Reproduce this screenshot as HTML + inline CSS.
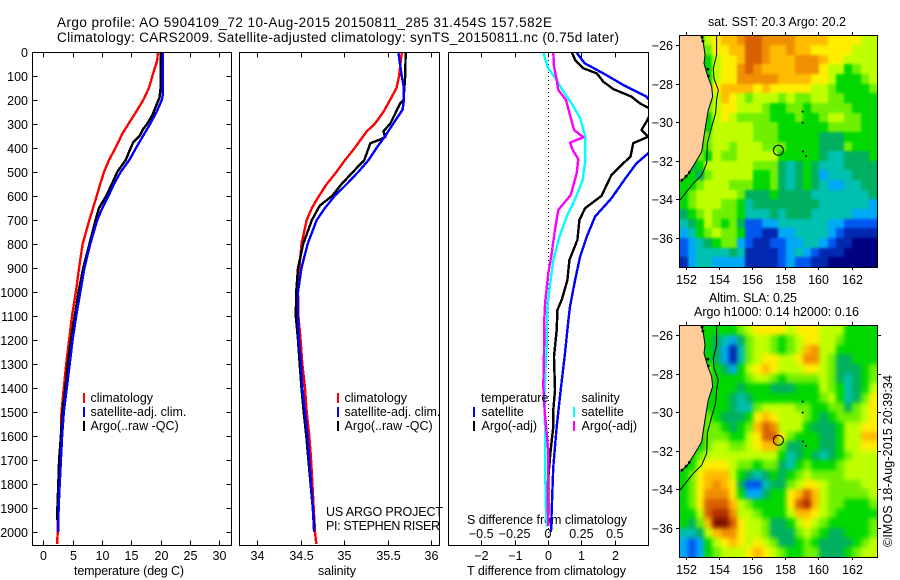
<!DOCTYPE html>
<html lang="en">
<head>
<meta charset="utf-8">
<title>Argo profile 5904109_72</title>
<style>
html,body{margin:0;padding:0;background:#fff;}
svg{display:block;}
text{font-family:"Liberation Sans",Arial,sans-serif;font-size:12.5px;fill:#000;}
</style>
</head>
<body>
<svg id="fig" xmlns="http://www.w3.org/2000/svg" width="900" height="580" viewBox="0 0 900 580">
<defs>
<clipPath id="clip-t"><rect x="32" y="52" width="199" height="493"/></clipPath>
<clipPath id="clip-s"><rect x="240" y="52" width="199" height="493"/></clipPath>
<clipPath id="clip-d"><rect x="449" y="52" width="199" height="493"/></clipPath>
<clipPath id="clip-m1"><rect x="680" y="35" width="197" height="232"/></clipPath>
<clipPath id="clip-m2"><rect x="680" y="325" width="197" height="232"/></clipPath>
<filter id="soft-sst" filterUnits="userSpaceOnUse" x="660" y="15" width="240" height="272" color-interpolation-filters="sRGB">
<feGaussianBlur stdDeviation="1.3"/>
<feComponentTransfer><feFuncA type="linear" slope="20"/></feComponentTransfer>
</filter>
<filter id="soft-sla" filterUnits="userSpaceOnUse" x="660" y="305" width="240" height="272" color-interpolation-filters="sRGB">
<feGaussianBlur stdDeviation="2.4"/>
<feComponentTransfer><feFuncA type="linear" slope="20"/></feComponentTransfer>
</filter>
</defs>
<text x="57" y="27" style="font-size:13.5px" textLength="495">Argo profile: AO 5904109_72 10-Aug-2015 20150811_285 31.454S 157.582E</text>
<text x="57" y="42" style="font-size:13.5px" textLength="562">Climatology: CARS2009. Satellite-adjusted climatology: synTS_20150811.nc (0.75d later)</text>
<text x="74" y="575" textLength="110">temperature (deg C)</text>
<text x="318" y="575" textLength="38">salinity</text>
<text x="467" y="575" textLength="159">T difference from climatology</text>
<text x="467" y="524" textLength="160">S difference from climatology</text>
<text x="326" y="516" textLength="117">US ARGO PROJECT</text>
<text x="326" y="530" textLength="114">PI: STEPHEN RISER</text>
<text x="708" y="26" textLength="138">sat. SST: 20.3 Argo: 20.2</text>
<text x="709" y="302" textLength="88">Altim. SLA: 0.25</text>
<text x="694" y="316" textLength="165">Argo h1000: 0.14 h2000: 0.16</text>
<text transform="translate(892,547) rotate(-90)" textLength="172">©IMOS 18-Aug-2015 20:39:34</text>
</svg>
<script>
// ---- axis tick data ----
var depthTicks = [0,100,200,300,400,500,600,700,800,900,1000,1100,1200,1300,1400,1500,1600,1700,1800,1900,2000];
var tempTicks = [0,5,10,15,20,25,30];
var salTicks = [34,34.5,35,35.5,36];
var salTickLabels = ['34','34.5','35','35.5','36'];
var tDiffTicks = [-2,-1,0,1,2];
var tDiffLabels = ['\u22122','\u22121','0','1','2'];
var sDiffTicks = [-0.5,-0.25,0,0.25,0.5];
var sDiffLabels = ['\u22120.5','\u22120.25','0','0.25','0.5'];
var lonTicks = [152,154,156,158,160,162];
var latTicks = [-26,-28,-30,-32,-34,-36];

// ---- temperature profiles ----
var tClimDepth = [0,33,100,150,200,242,300,339,400,450,500,550,600,700,800,900,990,1100,1200,1300,1400,1500,1600,1700,1800,1900,2000,2050];
var tClimValue = [19.5,19.45,18.6,18.0,17.05,16.0,14.5,13.5,12.3,11.2,10.35,9.7,9.1,7.85,6.7,6.1,5.6,4.9,4.4,3.9,3.5,3.1,3.0,2.7,2.6,2.5,2.45,2.35];
var tSatDepth = [0,100,180,200,250,300,350,400,450,500,550,600,650,700,800,900,1000,1100,1200,1300,1400,1500,1600,1700,1800,1900,2000];
var tSatValue = [20.35,20.35,20.35,20.2,19.3,18.2,17,15.8,14.65,13.2,12.05,11.1,10.05,9.2,8,7,6.3,5.6,5,4.5,4,3.5,3.2,3,2.8,2.6,2.55];
var tArgoDepth = [0,100,150,190,220,260,300,320,350,375,400,450,500,550,600,650,700,800,900,1000,1100,1200,1300,1400,1500,1600,1700,1800,1900,1950];
var tArgoValue = [20,20,20,19.8,19.3,18.65,17.7,17.05,16.4,15.35,14.9,14.05,12.6,11.7,10.7,9.5,8.9,7.85,6.8,6,5.35,4.7,4.2,3.75,3.25,3,2.7,2.55,2.4,2.4];

// ---- salinity profiles ----
var sClimDepth = [0,100,150,200,250,300,330,400,450,500,550,600,650,700,800,900,1000,1100,1200,1300,1400,1500,1600,1700,1800,1900,2000,2050];
var sClimValue = [35.66,35.63,35.6,35.525,35.45,35.35,35.26,35.12,35.01,34.91,34.8,34.71,34.63,34.57,34.51,34.485,34.47,34.475,34.5,34.52,34.55,34.57,34.6,34.62,34.635,34.65,34.665,34.68];
var sSatDepth = [0,50,100,150,200,240,300,350,400,450,500,550,600,650,700,800,900,1000,1100,1200,1300,1400,1500,1600,1700,1800,1900,2000];
var sSatValue = [35.62,35.64,35.66,35.685,35.685,35.67,35.56,35.47,35.37,35.28,35.16,35.03,34.89,34.78,34.685,34.58,34.51,34.47,34.47,34.48,34.505,34.52,34.55,34.58,34.6,34.62,34.64,34.655];
var sArgoDepth = [0,100,200,215,260,300,330,355,365,380,420,450,500,550,600,640,700,800,900,1000,1100,1200,1300,1400,1500,1600,1700,1800,1900,1980];
var sArgoValue = [35.705,35.7,35.68,35.64,35.58,35.525,35.45,35.47,35.41,35.3,35.26,35.23,35.1,34.97,34.86,34.72,34.63,34.53,34.47,34.45,34.445,34.47,34.49,34.51,34.535,34.565,34.59,34.615,34.64,34.66];

// ---- difference profiles ----
var dtSatDepth = [0,47,89,137,186,250,300,350,422,464,520,609,686,770,853,950,1061,1117,1255,1408,1561,1728,1908,1999];
var dtSatValue = [0.84,1.1,1.66,2.25,2.95,3.3,3.6,3.5,3.0,2.65,2.35,1.9,1.41,1.16,0.96,0.81,0.66,0.61,0.51,0.38,0.26,0.16,0.11,0.09];
var dtArgoDepth = [0,33,68,89,124,155,186,214,232,250,290,325,353,380,436,471,512,600,651,700,783,867,950,1033,1075,1158,1270,1408,1492,1561,1658,1770,1853,1950];
var dtArgoValue = [0.71,0.81,1.06,1.46,1.66,1.96,2.5,2.75,3.0,3.1,2.95,2.8,3.0,2.55,2.47,2.2,1.9,1.6,1.11,0.94,0.88,0.64,0.58,0.41,0.28,0.26,0.18,0.21,0.16,0.16,0.08,0.01,0.01,0.0];
var dsSatDepth = [0,61,117,165,214,276,353,450,533,617,686,770,867,950,1061,1221,1353,1492,1633,1770,1908,1978];
var dsSatValue = [-0.035,-0.005,0.065,0.115,0.177,0.24,0.28,0.28,0.26,0.2,0.14,0.085,0.04,0.02,-0.005,-0.01,-0.022,-0.025,-0.02,-0.02,-0.015,-0.01];
var dsArgoDepth = [0,61,117,158,200,262,325,355,378,408,447,505,596,658,742,839,922,1046,1117,1255,1395,1500,1662,1880,1975];
var dsArgoValue = [0.04,0.045,0.065,0.077,0.135,0.165,0.195,0.264,0.165,0.185,0.227,0.215,0.17,0.077,0.052,0.028,0.002,-0.022,-0.028,-0.03,-0.035,-0.025,0.002,-0.002,0.002];

// ---- map data (colour class per 0.5 deg cell) ----
var sstRows = [
[6,6,6,8,9,10,10,11,12,12,11,11,11,11,10,10,10,10,9,9,9,9,8,8],
[6,6,6,7,9,9,10,10,12,12,11,10,10,11,10,10,9,9,9,9,9,8,8,8],
[6,6,6,6,8,9,9,10,12,12,11,10,10,10,11,11,11,10,9,9,8,8,8,8],
[6,6,6,6,8,9,9,11,12,11,10,10,10,10,11,11,11,9,8,8,6,7,8,8],
[6,6,6,6,8,9,9,11,11,11,11,11,10,10,10,10,9,9,8,6,6,6,7,8],
[6,6,6,6,9,10,10,10,10,9,10,9,9,9,9,9,8,8,7,6,6,6,6,7],
[6,6,6,6,8,10,9,8,7,8,8,8,7,8,7,7,8,8,7,7,6,6,6,6],
[6,6,6,7,8,9,9,8,8,8,7,6,6,7,7,6,7,7,7,7,7,6,6,6],
[6,6,6,6,8,9,8,7,7,7,7,6,6,6,7,6,6,7,8,8,7,7,6,6],
[6,6,6,6,8,8,8,8,8,7,7,7,6,6,6,6,6,6,7,7,7,7,6,6],
[6,6,6,7,8,8,8,8,8,7,7,7,6,6,6,6,6,5,5,5,6,6,6,6],
[6,6,6,7,8,8,7,8,8,8,7,7,7,6,6,6,6,5,5,5,7,6,6,6],
[6,6,7,6,8,7,7,8,8,8,8,8,6,6,6,6,6,5,4,4,5,5,5,6],
[6,5,6,8,8,8,8,8,8,7,7,7,5,4,5,6,5,4,4,4,5,5,5,5],
[6,6,5,7,8,8,8,8,8,6,6,7,5,4,5,6,5,3,4,4,4,5,5,5],
[6,6,7,8,8,8,7,7,7,6,6,7,5,4,5,6,5,4,3,3,4,4,5,5],
[6,7,8,8,8,8,8,7,5,5,5,6,5,5,5,5,4,4,4,4,4,4,4,5],
[6,7,8,8,8,7,7,6,4,5,5,5,5,5,5,5,5,4,4,4,4,4,4,3],
[5,6,7,8,7,7,7,6,4,4,4,5,4,5,5,5,4,4,4,4,4,3,3,3],
[4,5,6,8,7,6,7,5,2,2,3,3,4,4,4,4,4,4,3,3,2,2,2,2],
[3,4,6,7,8,7,7,6,2,2,1,1,3,3,4,4,4,4,3,2,1,1,1,1],
[2,3,4,5,6,7,7,3,2,1,1,2,2,3,3,4,4,3,2,1,1,0,0,0],
[2,3,4,4,4,4,5,4,1,1,1,1,2,3,4,3,2,1,1,1,0,0,0,0],
[1,3,4,4,3,3,3,3,1,1,1,1,2,3,2,2,1,1,0,0,0,0,0,0]
];
var slaRows = [
[6,6,6,6,6,6,6,7,8,9,9,9,9,8,9,9,9,8,8,8,6,6,6,6],
[6,6,6,6,5,4,3,5,7,8,8,7,6,7,8,9,9,8,8,7,6,6,6,6],
[6,6,6,6,5,3,1,4,7,8,8,7,6,7,8,10,11,8,8,6,6,6,6,6],
[6,6,6,6,5,3,1,4,7,8,9,9,8,8,9,11,11,8,7,5,5,6,6,6],
[6,6,6,7,6,5,3,6,8,9,10,9,8,8,8,9,9,8,7,5,5,5,6,7],
[6,6,6,7,6,6,6,6,7,8,8,7,6,7,7,7,7,8,7,5,4,5,6,7],
[6,6,6,6,6,6,6,5,6,6,6,5,5,5,6,6,6,8,7,6,4,5,6,8],
[6,6,6,6,6,6,5,4,5,6,6,6,6,6,6,6,6,7,8,6,4,5,7,9],
[6,6,6,6,6,6,5,4,4,7,8,8,8,8,7,7,6,6,7,7,5,7,8,9],
[6,6,6,7,6,5,5,5,6,9,10,9,8,8,8,7,6,5,6,7,7,7,8,9],
[6,6,6,7,7,6,5,6,7,10,12,11,8,8,8,6,5,5,5,6,8,8,9,9],
[6,6,6,7,7,7,6,6,8,9,12,12,9,7,6,6,6,5,5,6,8,8,10,10],
[6,6,6,7,8,8,7,7,8,9,10,10,7,5,5,6,6,5,5,6,8,8,9,9],
[6,6,7,8,8,8,8,8,8,8,8,8,6,4,5,6,5,4,5,6,7,8,8,8],
[6,6,8,9,9,9,8,7,7,6,7,7,5,4,6,7,6,6,6,7,8,8,8,8],
[6,7,9,10,10,10,8,6,5,4,5,6,5,6,7,8,7,7,7,7,8,8,8,8],
[6,7,9,10,11,10,9,5,2,2,4,5,5,7,8,9,9,8,7,7,7,7,8,8],
[6,7,9,11,11,11,9,6,3,3,5,6,6,9,10,12,10,8,7,7,7,7,7,8],
[6,7,9,12,12,12,10,8,7,6,6,6,6,9,12,13,10,8,7,7,6,6,6,7],
[6,6,8,12,13,13,11,8,8,7,6,6,6,8,10,10,9,8,7,6,6,6,6,6],
[6,5,7,10,14,14,12,9,8,8,7,5,5,6,8,9,8,7,6,6,6,6,6,7],
[4,4,5,8,10,11,11,9,8,8,7,5,5,5,7,8,7,6,5,5,6,6,6,7],
[3,2,3,6,8,9,10,9,8,9,8,7,5,5,6,7,6,5,5,5,5,6,7,8],
[3,2,3,6,7,8,8,8,9,10,9,8,7,6,6,7,7,5,5,5,6,7,8,8]
];
var mapPalette = ['#000080','#0028b0','#0058f0','#00a8f8','#00c0b0','#00b060','#00d800','#70f000','#c0ff00','#ffee00','#ffbc00','#f09000','#d86000','#b03000','#801000'];

// ---- map outlines (lon / lat) ----
var coastLon = [152.91,153.05,153.15,153.09,153.29,153.55,153.61,153.35,153.21,153.05,152.95,152.54,152.14,151.68];
var coastLat = [-25.48,-25.91,-26.52,-26.95,-27.55,-28.16,-28.68,-29.37,-30.06,-30.92,-31.53,-32.13,-32.68,-33.08];
var isobathLon = [153.85,153.85,153.65,153.69,153.95,153.85,153.79,153.55,153.29,153.25,152.95,152.44,151.64];
var isobathLat = [-25.48,-26.52,-27.21,-27.73,-28.33,-28.85,-29.54,-30.23,-31.09,-32.13,-32.74,-33.17,-34.03];
var estuaryLon = [152.97,153.02,153.32,153.35,152.2,152.0,151.75];
var estuaryLat = [-25.6,-25.8,-27.25,-27.6,-32.6,-32.8,-33.0];
var islandLon = [159.05,159.05,159.07,159.25];
var islandLat = [-29.45,-30.02,-31.52,-31.75];
var profileLon = 157.582;
var profileLat = -31.454;

// ---- axis functions ----
function yDepth(d){ return 52 + d*0.24; }
function xTemp(t){ return 43.3 + t*5.867; }
function xSal(s){ return 257 + (s-34)*87.2; }
function xDT(t){ return 548 + t*33.4; }
function xDS(s){ return 548 + s*133.6; }
function xLon(lon){ return 686 + (lon-152)*16.55; }
function yLatTop(lat){ return 45 + (-26-lat)*19.3; }
function yLatBottom(lat){ return 335 + (-26-lat)*19.3; }

var svg = document.getElementById('fig');
var NS = 'http://www.w3.org/2000/svg';

function mk(tag, name, attrs, parent){
  var el = document.createElementNS(NS, tag);
  
  
  for (var k in attrs) el.setAttribute(k, attrs[k]);
  (parent || svg).appendChild(el);
  return el;
}
function line(name, x1, y1, x2, y2, parent, w){
  return mk('line', name, {x1:x1, y1:y1, x2:x2, y2:y2, stroke:'#000', 'stroke-width':w||1, 'shape-rendering':'crispEdges'}, parent);
}
function label(name, str, x, y, anchor, parent){
  var el = mk('text', name, {x:x, y:y, 'text-anchor':anchor||'middle'}, parent);
  el.textContent = str;
  return el;
}
function profile(name, depths, values, xf, color, clip, width){
  var pts = [];
  for (var i = 0; i < depths.length; i++) pts.push(xf(values[i]).toFixed(1) + ',' + yDepth(depths[i]).toFixed(1));
  mk('polyline', name, {points:pts.join(' '), fill:'none', stroke:color, 'stroke-width':width||2.4, 'stroke-linejoin':'round', 'shape-rendering':'crispEdges', 'clip-path':'url(#'+clip+')'});
}
function frame(name, l, t, r, b){
  mk('rect', name, {x:l, y:t, width:r-l, height:b-t, fill:'none', stroke:'#000', 'stroke-width':1, 'shape-rendering':'crispEdges'});
}

// ---- temperature panel ----
profile('temperature-climatology-line', tClimDepth, tClimValue, xTemp, '#ff0000', 'clip-t');
profile('temperature-argo-line', tArgoDepth, tArgoValue, xTemp, '#000000', 'clip-t');
profile('temperature-satellite-line', tSatDepth, tSatValue, xTemp, '#0000ff', 'clip-t');
frame('temperature-panel-frame', 32.5, 52.5, 231.5, 545.5);
depthTicks.forEach(function(d){
  var y = Math.round(yDepth(d)) + 0.5;
  line('depth-tick', 32.5, y, 37.5, y);
  line('depth-tick-right', 226.5, y, 231.5, y);
  label('depth-label', String(d), 28, y + 4.5, 'end');
});
tempTicks.forEach(function(v, i){
  var x = Math.round(xTemp(v)) + 0.5;
  line('temperature-tick-top', x, 52.5, x, 57.5);
  line('temperature-tick-bottom', x, 540.5, x, 545.5);
  label('temperature-label', String(v), x, 560);
});

// ---- salinity panel ----
profile('salinity-climatology-line', sClimDepth, sClimValue, xSal, '#ff0000', 'clip-s');
profile('salinity-argo-line', sArgoDepth, sArgoValue, xSal, '#000000', 'clip-s');
profile('salinity-satellite-line', sSatDepth, sSatValue, xSal, '#0000ff', 'clip-s');
frame('salinity-panel-frame', 239.5, 52.5, 439.5, 545.5);
salTicks.forEach(function(v, i){
  var x = Math.round(xSal(v)) + 0.5;
  line('salinity-tick-top', x, 52.5, x, 57.5);
  line('salinity-tick-bottom', x, 540.5, x, 545.5);
  label('salinity-label', salTickLabels[i], x, 560);
});

// ---- difference panel ----
mk('line', 'zero-difference-line', {x1:548.5, y1:52, x2:548.5, y2:540, stroke:'#000', 'stroke-width':1, 'stroke-dasharray':'1 3', 'shape-rendering':'crispEdges'});
profile('t-difference-satellite-line', dtSatDepth, dtSatValue, xDT, '#0000ff', 'clip-d');
profile('t-difference-argo-line', dtArgoDepth, dtArgoValue, xDT, '#000000', 'clip-d');
profile('s-difference-satellite-line', dsSatDepth, dsSatValue, xDS, '#00ffff', 'clip-d');
profile('s-difference-argo-line', dsArgoDepth, dsArgoValue, xDS, '#ff00ff', 'clip-d');
frame('difference-panel-frame', 448.5, 52.5, 648.5, 545.5);
tDiffTicks.forEach(function(v, i){
  var x = Math.round(xDT(v)) + 0.5;
  line('t-difference-tick-top', x, 52.5, x, 57.5);
  line('t-difference-tick-bottom', x, 540.5, x, 545.5);
  label('t-difference-label', tDiffLabels[i], x, 560);
});
sDiffTicks.forEach(function(v, i){
  label('s-difference-label', sDiffLabels[i], xDS(v), 538);
});

// ---- legends ----
function legend(name, color, x, y, text, tx){
  mk('rect', name + '-swatch', {x:x, y:y-9, width:2, height:10, fill:color, 'shape-rendering':'crispEdges'});
  label(name + '-label', text, tx, y, 'start');
}
legend('legend-t-climatology', '#ff0000', 83, 402, 'climatology', 90.5);
legend('legend-t-satellite', '#0000ff', 83, 416, 'satellite-adj. clim.', 90.5);
legend('legend-t-argo', '#000000', 83, 430, 'Argo(..raw -QC)', 90.5);
legend('legend-s-climatology', '#ff0000', 337, 402, 'climatology', 344.5);
legend('legend-s-satellite', '#0000ff', 337, 416, 'satellite-adj. clim.', 344.5);
legend('legend-s-argo', '#000000', 337, 430, 'Argo(..raw -QC)', 344.5);
label('legend-temperature-heading', 'temperature', 481, 402, 'start');
legend('legend-dt-satellite', '#0000ff', 473, 416, 'satellite', 481.5);
legend('legend-dt-argo', '#000000', 473, 430, 'Argo(-adj)', 481.5);
label('legend-salinity-heading', 'salinity', 581.5, 402, 'start');
legend('legend-ds-satellite', '#00ffff', 573, 416, 'satellite', 581.5);
legend('legend-ds-argo', '#ff00ff', 573, 430, 'Argo(-adj)', 581.5);

// ---- maps ----
function drawMap(prefix, rows, yLat, clip, softFilter, top, bottom, rightTicks){
  var outer = mk('g', prefix + '-image', {'clip-path':'url(#'+clip+')'});
  var g = mk('g', prefix + '-cells', {filter:'url(#'+softFilter+')', 'shape-rendering':'crispEdges'}, outer);
  var lon0 = 151.6, lat0 = -25.5, dLon = 0.4975, dLat = 0.5;
  rows.forEach(function(row, j){
    row.forEach(function(v, i){
      var x1 = Math.round(xLon(lon0 + i*dLon)), x2 = Math.round(xLon(lon0 + (i+1)*dLon));
      var y1 = Math.round(yLat(lat0 - j*dLat)), y2 = Math.round(yLat(lat0 - (j+1)*dLat));
      mk('rect', prefix + '-cell', {x:x1, y:y1, width:x2-x1, height:y2-y1, fill:mapPalette[v]}, g);
    });
  });
  // land
  var pts = [xLon(151.5) + ',' + yLat(-25.4)];
  coastLon.forEach(function(lon, i){ pts.push(xLon(lon).toFixed(1) + ',' + yLat(coastLat[i]).toFixed(1)); });
  pts.push(xLon(151.5) + ',' + yLat(-33.1));
  mk('polygon', prefix + '-land', {points:pts.join(' '), fill:'#ffcc99', stroke:'none', 'clip-path':'url(#'+clip+')'});
  var cp = [];
  coastLon.forEach(function(lon, i){ cp.push(xLon(lon).toFixed(1) + ',' + yLat(coastLat[i]).toFixed(1)); });
  mk('polyline', prefix + '-coastline', {points:cp.join(' '), fill:'none', stroke:'#000', 'stroke-width':1, 'clip-path':'url(#'+clip+')'});
  estuaryLon.forEach(function(lon, i){
    mk('circle', prefix + '-estuary', {cx:xLon(lon), cy:yLat(estuaryLat[i]), r:1.4, fill:'#000', 'clip-path':'url(#'+clip+')'});
  });
  var ip = [];
  isobathLon.forEach(function(lon, i){ ip.push(xLon(lon).toFixed(1) + ',' + yLat(isobathLat[i]).toFixed(1)); });
  mk('polyline', prefix + '-isobath', {points:ip.join(' '), fill:'none', stroke:'#000', 'stroke-width':1, 'clip-path':'url(#'+clip+')'});
  islandLon.forEach(function(lon, i){
    mk('circle', prefix + '-island', {cx:xLon(lon), cy:yLat(islandLat[i]), r:1, fill:'#000'});
  });
  mk('circle', prefix + '-profile-marker', {cx:xLon(profileLon), cy:yLat(profileLat), r:5, fill:'none', stroke:'#000', 'stroke-width':1});
  frame(prefix + '-frame', 679.5, top + 0.5, 877.5, bottom + 0.5);
  lonTicks.forEach(function(lon){
    var x = Math.round(xLon(lon)) + 0.5;
    line(prefix + '-lon-tick-top', x, top - 3, x, top);
    line(prefix + '-lon-tick-bottom', x, bottom, x, bottom + 3);
    label(prefix + '-lon-label', String(lon), x, bottom + 17);
  });
  latTicks.forEach(function(lat){
    var y = Math.round(yLat(lat)) + 0.5;
    line(prefix + '-lat-tick-left', 676, y, 679, y);
    if (rightTicks) line(prefix + '-lat-tick-right', 878, y, 881, y);
    label(prefix + '-lat-label', '\u2212' + Math.abs(lat), 673, y + 4.5, 'end');
  });
}
drawMap('sst-map', sstRows, yLatTop, 'clip-m1', 'soft-sst', 35, 267, false);
drawMap('sla-map', slaRows, yLatBottom, 'clip-m2', 'soft-sla', 325, 557, true);
</script>
</body>
</html>
